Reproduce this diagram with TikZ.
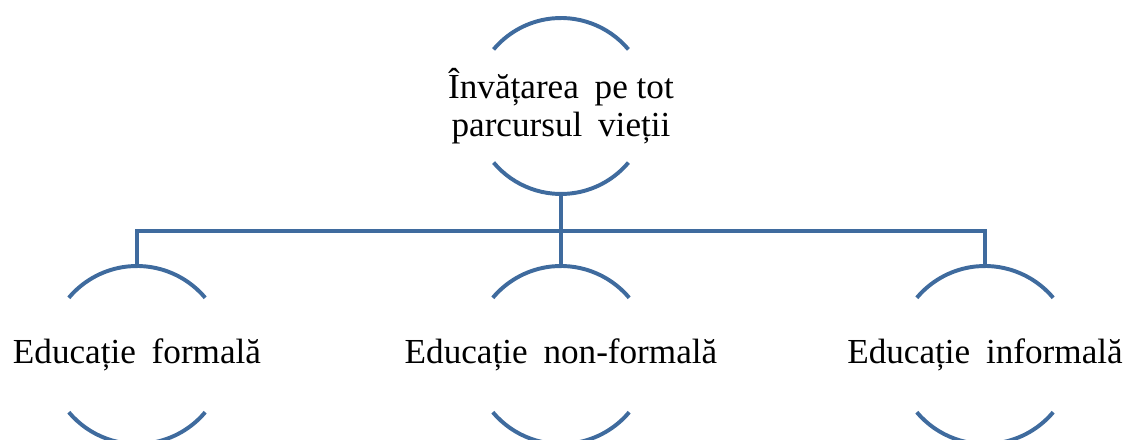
\documentclass[tikz,border=0pt]{standalone}
\usepackage{fontspec}
\setmainfont{Liberation Serif}
\usetikzlibrary{calc}
\definecolor{arcblue}{RGB}{63,107,158}
\newcommand{\widegap}{\hspace{0.45em}}
\tikzset{
  label text/.style={font=\fontsize{25}{26.8}\selectfont, align=center, inner sep=0pt},
  ring/.style={draw=arcblue, line width=2.8pt},
  link/.style={draw=arcblue, line width=2.8pt},
}

\begin{document}
\begin{tikzpicture}[x=0.025cm,y=0.025cm]
    \useasboundingbox (0,0) rectangle (1127,440);
    % the four labels
    \node[label text] (life) at (561,334) {Învățarea\widegap pe tot\\parcursul\widegap vieții};
    \node[label text] (formal) at (137,85) {Educație\widegap formală};
    \node[label text] (nonformal) at (561,85) {Educație\widegap non-formală};
    \node[label text] (informal) at (985,85) {Educație\widegap informală};
    % open circles round them
    \draw[ring] ([shift={(40:88)}]life.center) arc[start angle=40,end angle=140,radius=88];
    \draw[ring] ([shift={(220:88)}]life.center) arc[start angle=220,end angle=320,radius=88];
    \foreach \n in {formal,nonformal,informal} {
        \draw[ring] ([shift={(40:89)}]\n.center) arc[start angle=40,end angle=140,radius=89];
        \draw[ring] ([shift={(220:89)}]\n.center) arc[start angle=220,end angle=320,radius=89];
    }
    % tree
    \coordinate (bar) at (561,209);
    \draw[link] ($(life.center)+(0,-88)$) -- (bar);
    \draw[link] ($(formal.center)+(0,89)$) |- (bar) -| ($(informal.center)+(0,89)$);
    \draw[link] (bar) -- ($(nonformal.center)+(0,89)$);
\end{tikzpicture}
\end{document}
